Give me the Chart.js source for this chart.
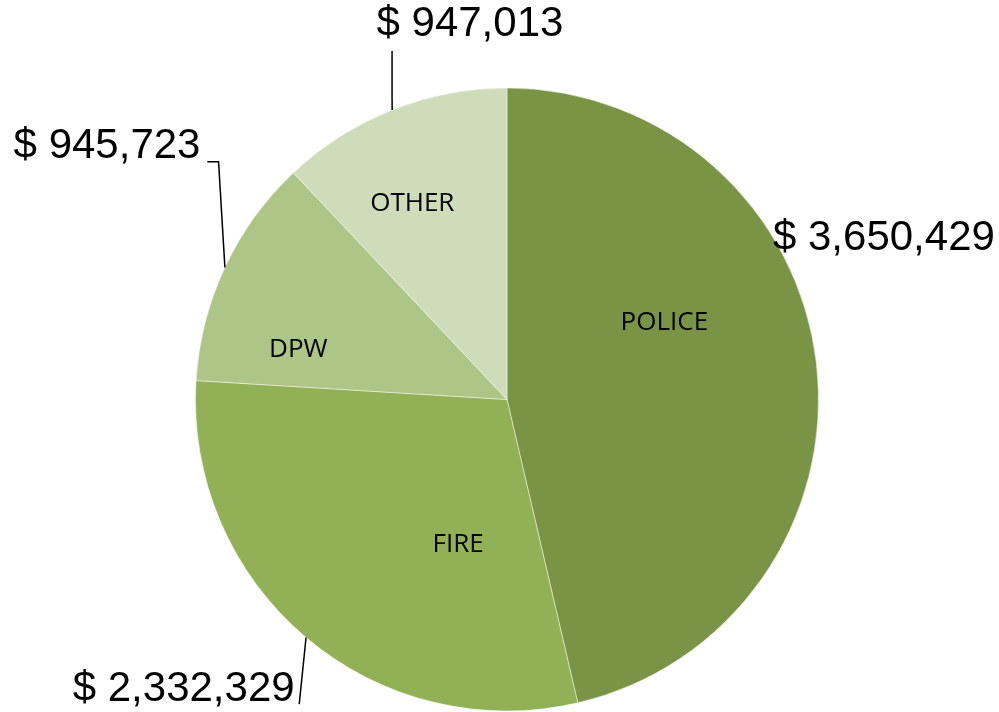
<!DOCTYPE html>
<html>
<head>
<meta charset="utf-8">
<script src="https://cdn.jsdelivr.net/npm/chart.js@4/dist/chart.umd.min.js"></script>
<style>
  html, body { margin: 0; padding: 0; background: #fff; }
  #wrap { width: 999px; height: 712px; position: relative; }
</style>
</head>
<body>
<div id="wrap"><canvas id="pie"></canvas></div>
<script>
// data
const categories = ["POLICE", "FIRE", "DPW", "OTHER"];
const amounts = [3650429, 2332329, 945723, 947013];
const valueLabels = ["$ 3,650,429", "$ 2,332,329", "$ 945,723", "$ 947,013"];

const sliceColors = ["#7a9445", "#92b056", "#adc586", "#cfdcb9"];

/* label layout, in slice fraction / radius units */
const insideAt = [[0.38, 0.565], [0.30, 0.485], [0.24, 0.69], [0.41, 0.705]];
const outsideAt = [[1.21, -0.518], [-1.038, 0.931], [-1.284, -0.811], [-0.119, -1.204]];
const leaders = [
    [],
    [[-0.667, 0.978]],
    [[-0.926, -0.763], [-0.962, -0.763]],
    [[-0.369, -1.119]]
];

const labelPlugin = {
    id: "pieLabels",
    afterDatasetsDraw(chart) {
        const ctx = chart.ctx;
        const arcs = chart.getDatasetMeta(0).data;
        ctx.save();
        arcs.forEach((arc, i) => {
            const cx = arc.x, cy = arc.y, r = arc.outerRadius;

            // leader line from middle of the arc
            if (leaders[i].length) {
                const mid = (arc.startAngle + arc.endAngle) / 2;
                ctx.beginPath();
                ctx.moveTo(cx + Math.cos(mid) * r, cy + Math.sin(mid) * r);
                leaders[i].forEach(p => ctx.lineTo(cx + p[0] * r, cy + p[1] * r));
                ctx.strokeStyle = "#000";
                ctx.lineWidth = 1.5;
                ctx.stroke();
            }

            // category name inside (nudged down a bit, font sits high)
            const a = arc.startAngle + (arc.endAngle - arc.startAngle) * insideAt[i][0];
            ctx.fillStyle = "#000";
            ctx.textAlign = "center";
            ctx.textBaseline = "middle";
            ctx.font = "26px 'Open Sans'";
            ctx.fillText(categories[i], cx + Math.cos(a) * r * insideAt[i][1],
                cy + Math.sin(a) * r * insideAt[i][1] + 2);

            // value outside
            ctx.font = "42px 'Liberation Sans'";
            ctx.fillText(valueLabels[i], cx + outsideAt[i][0] * r, cy + outsideAt[i][1] * r);
        });
        ctx.restore();
    }
};

new Chart(document.getElementById("pie"), {
    type: "pie",
    data: {
        labels: categories,
        datasets: [{
            data: amounts,
            backgroundColor: sliceColors,
            borderColor: "rgba(255,255,255,0.45)",
            borderWidth: 1
        }]
    },
    options: {
        responsive: true,
        maintainAspectRatio: false,
        animation: false,
        layout: { padding: { left: 195, right: 180, top: 87, bottom: 0 } },
        plugins: {
            legend: { display: false },
            tooltip: { enabled: false }
        }
    },
    plugins: [labelPlugin]
});
</script>
</body>
</html>
